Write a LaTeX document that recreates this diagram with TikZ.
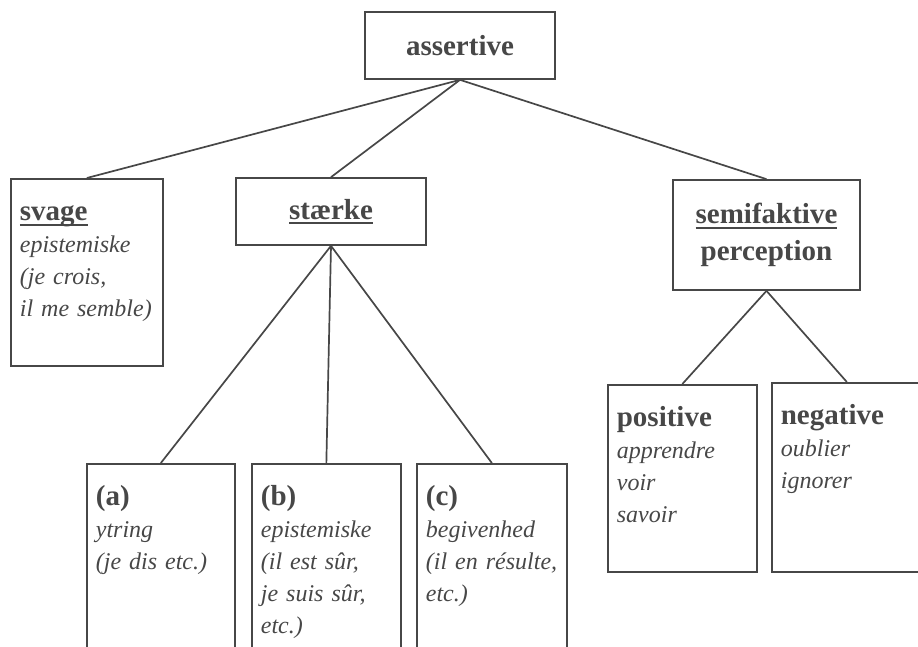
\documentclass[tikz,border=0pt]{standalone}
\usepackage{fontspec}
\setmainfont{Liberation Serif}
\definecolor{ink}{gray}{0.28}
\newcommand{\uword}[1]{\setbox0\hbox{#1}\rlap{\rule[-5pt]{\wd0}{1.6pt}}\box0}
\newcommand{\hd}[1]{{\fontsize{29}{32}\selectfont\bfseries\upshape #1}}

\begin{document}
\begin{tikzpicture}[x=1pt, y=-1pt, ink, line width=1.7pt,
        headbox/.style={draw, minimum width=190pt, minimum height=67pt, align=center, font=\fontsize{29}{37}\selectfont\bfseries},
        leafbox/.style={draw, anchor=north west, align=left, inner xsep=9pt, inner ysep=0pt, text height=42pt, font=\fontsize{24}{32}\selectfont\itshape}]
        \useasboundingbox (0,0) rectangle (918,646);
        \clip (0,0) rectangle (918,646);
        \node[headbox] (assertive) at (460,45.5) {assertive};
        \node[leafbox, text width=134pt, text depth=145pt] (svage) at (10,178) {\hd{\uword{svage}}\\epistemiske\\(je crois,\\il me semble)};
        \node[headbox] (staerke) at (331,211.5) {\uword{stærke}};
        \node[headbox, minimum width=187pt, minimum height=110pt] (semifaktive) at (766.5,235) {\uword{semifaktive}\\perception};
        \node[leafbox, text width=130pt, text depth=300pt] (a) at (86,463) {\hd{(a)}\\ytring\\(je dis etc.)};
        \node[leafbox, text width=131pt, text depth=300pt] (b) at (251,463) {\hd{(b)}\\epistemiske\\(il est sûr,\\je suis sûr,\\etc.)};
        \node[leafbox, text width=132pt, text depth=300pt] (c) at (416,463) {\hd{(c)}\\begivenhed\\(il en résulte,\\etc.)};
        \node[leafbox, text width=131pt, text depth=145pt] (positive) at (607,384) {\hd{positive}\\apprendre\\voir\\savoir};
        \node[leafbox, text width=132pt, text depth=147pt] (negative) at (771,382) {\hd{negative}\\oublier\\ignorer};
        \draw (assertive.south) -- (svage.north);
        \draw (assertive.south) -- (staerke.north);
        \draw (assertive.south) -- (semifaktive.north);
        \draw (staerke.south) -- (a.north);
        \draw (staerke.south) -- (b.north);
        \draw (staerke.south) -- (c.north);
        \draw (semifaktive.south) -- (positive.north);
        \draw (semifaktive.south) -- (negative.north);
    \end{tikzpicture}
\end{document}
